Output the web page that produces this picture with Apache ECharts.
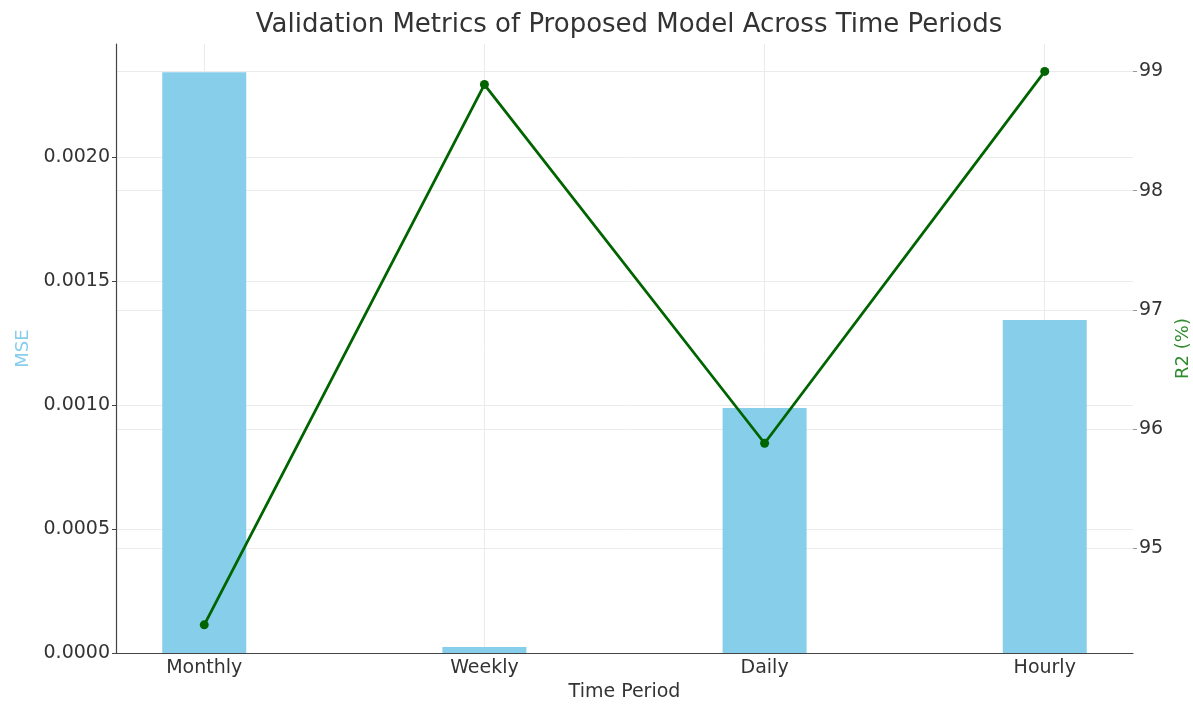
<!DOCTYPE html>
<html>
<head>
<meta charset="utf-8">
<script src="https://cdn.jsdelivr.net/npm/echarts@6/dist/echarts.min.js"></script>
<style>html,body{margin:0;padding:0;background:#fff;}#c{width:1193px;height:707px;}</style>
</head>
<body>
<div id="c"></div>
<script>
const categories = ['Monthly', 'Weekly', 'Daily', 'Hourly'];
const mseValues = [0.002343, 0.000024, 0.000988, 0.001343];
const r2Values = [94.356, 98.89, 95.88, 99.0];
const mseTicks = [0, 0.0005, 0.001, 0.0015, 0.002];
const r2Ticks = [95, 96, 97, 98, 99];
const catIdx = categories.map((c, i) => i);

const font = 'DejaVu Sans';
const chart = echarts.init(document.getElementById('c'));
chart.setOption({
  animation: false,
  backgroundColor: '#fff',
  textStyle: { fontFamily: font },
  title: {
    text: 'Validation Metrics of Proposed Model Across Time Periods',
    left: 624, textAlign: 'center', top: 7,
    textStyle: { fontFamily: font, fontSize: 26, fontWeight: 'normal', color: '#333' }
  },
  grid: { left: 116, right: 60, top: 44, bottom: 54, containLabel: false, outerBoundsMode: 'none' },
  xAxis: {
    type: 'value', min: -0.315, max: 3.315,
    name: 'Time Period', nameLocation: 'middle', nameGap: 30,
    nameTextStyle: { fontFamily: font, fontSize: 19, color: '#333' },
    axisLine: { show: true, onZero: false, lineStyle: { color: '#444', width: 1.2 } },
    axisTick: { show: true, inside: true, length: 4, customValues: catIdx, lineStyle: { color: '#444' } },
    axisLabel: { customValues: catIdx, formatter: v => categories[Math.round(v)], fontFamily: font, fontSize: 19, color: '#333', margin: 6 },
    splitLine: { show: true, lineStyle: { color: '#ebebeb', width: 1 } }
  },
  yAxis: [
    {
      type: 'value', min: 0, max: 0.002457, position: 'left',
      name: 'MSE', nameLocation: 'middle', nameGap: 84, nameRotate: 90,
      nameTextStyle: { fontFamily: font, fontSize: 18, color: '#87CEEB' },
      axisLine: { show: true, onZero: false, lineStyle: { color: '#444', width: 1.2 } },
      axisTick: { show: true, length: 4, customValues: mseTicks, lineStyle: { color: '#444' } },
      axisLabel: { customValues: mseTicks, formatter: v => v.toFixed(4), fontFamily: font, fontSize: 19, color: '#333', margin: 6 },
      splitLine: { show: true, lineStyle: { color: '#ebebeb', width: 1 } }
    },
    {
      type: 'value', min: 94.12, max: 99.23, position: 'right',
      name: 'R2 (%)', nameLocation: 'middle', nameGap: 38, nameRotate: 90,
      nameTextStyle: { fontFamily: font, fontSize: 18, color: '#2e8b2e' },
      axisLine: { show: false, onZero: false },
      axisTick: { show: true, length: 4, customValues: r2Ticks, lineStyle: { color: '#999' } },
      axisLabel: { customValues: r2Ticks, formatter: v => String(Math.round(v)), fontFamily: font, fontSize: 19, color: '#333', margin: 6 },
      splitLine: { show: true, lineStyle: { color: '#ebebeb', width: 1 } }
    }
  ],
  series: [
    {
      type: 'bar', name: 'MSE', yAxisIndex: 0, barWidth: 84,
      data: catIdx.map(i => [i, mseValues[i]]),
      itemStyle: { color: '#87CEEB' }, z: 2
    },
    {
      type: 'line', name: 'R2', yAxisIndex: 1,
      data: catIdx.map(i => [i, r2Values[i]]),
      lineStyle: { color: '#006400', width: 2.8 },
      itemStyle: { color: '#006400' },
      symbol: 'circle', symbolSize: 9, z: 3
    }
  ]
});
</script>
</body>
</html>
